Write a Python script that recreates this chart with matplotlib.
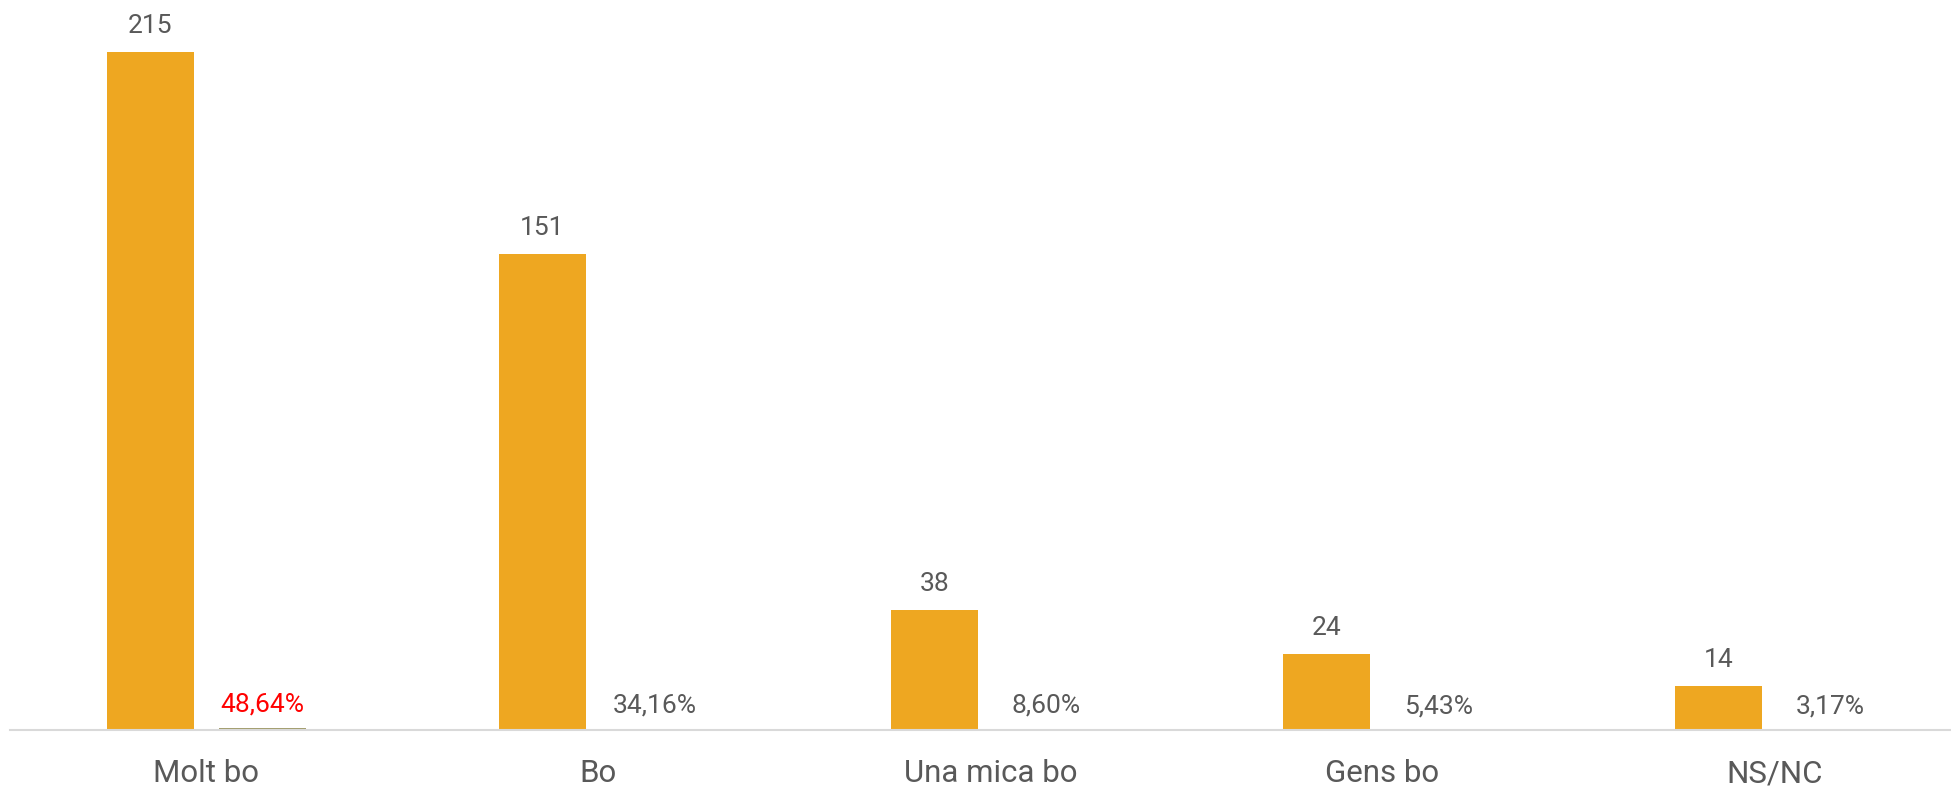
import numpy as np
import matplotlib.pyplot as plt

categories = ["Molt bo", "Bo", "Una mica bo", "Gens bo", "NS/NC"]
counts = [215, 151, 38, 24, 14]
shares = [0.4864, 0.3416, 0.0860, 0.0543, 0.0317]
share_labels = ["48,64%", "34,16%", "8,60%", "5,43%", "3,17%"]

fig = plt.figure(figsize=(19.51, 7.88), dpi=100)
ax = fig.add_axes([0.005, 0.0736, 0.995, 0.9264])

x = np.arange(len(categories))
w = 0.222
off = 0.143
b1 = ax.bar(x - off, counts, w, color="#eea721")
b2 = ax.bar(x + off, shares, w, color="#a39e6e")

for rect, v in zip(b1, counts):
    ax.annotate(str(v), (rect.get_x() + rect.get_width() / 2, rect.get_height()),
                xytext=(0, 10), textcoords="offset points", ha="center", va="bottom",
                fontsize=19, family="Roboto", color="#595959")

for i, (rect, s) in enumerate(zip(b2, share_labels)):
    first = i == 0
    ax.annotate(s, (rect.get_x() + rect.get_width() / 2, rect.get_height()),
                xytext=(0, 8.5), textcoords="offset points", ha="center", va="bottom",
                fontsize=19, family="Roboto",
                color="#ff0000" if first else "#595959")

ax.set_xlim(-0.501, 4.45)
ax.set_ylim(0, 231.5)
ax.set_xticks(x)
ax.set_xticklabels(categories, fontsize=22.5, family="Roboto", color="#595959")
ax.tick_params(axis="x", length=0, pad=21)
ax.set_yticks([])
for s in ["top", "right", "left"]:
    ax.spines[s].set_visible(False)
ax.spines["bottom"].set_color("#d9d9d9")
ax.spines["bottom"].set_linewidth(1.5)

fig.savefig("out.png", dpi=100)
